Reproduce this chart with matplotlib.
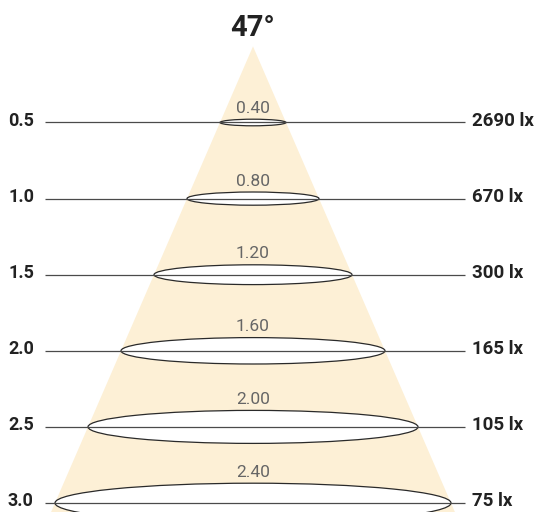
import matplotlib
matplotlib.use("Agg")
import matplotlib.pyplot as plt
from matplotlib.patches import Polygon, Ellipse

# data
distances = [0.5, 1.0, 1.5, 2.0, 2.5, 3.0]
diameters = [0.40, 0.80, 1.20, 1.60, 2.00, 2.40]
lux = [2690, 670, 300, 165, 105, 75]
angle_label = "47°"

# pixel-based geometry helpers (style, not data)
W, H = 537, 512
cx_px, y0_px = 253.0, 46.4
sx, sy = 165.0, 152.2   # px per metre

fig = plt.figure(figsize=(W / 100, H / 100), dpi=100)
ax = fig.add_axes([0, 0, 1, 1])
ax.set_xlim(-cx_px / sx, (W - cx_px) / sx)
ax.set_ylim((H - y0_px) / sy, -y0_px / sy)
ax.axis("off")

fam = ["Roboto", "DejaVu Sans"]
dark = "#222222"
linec = "#4a4a4a"

# beam cone
half = diameters[-1] / distances[-1] / 2
dmax = (H - y0_px) / sy + 0.05
cone = Polygon([(0, 0), (-half * dmax, dmax), (half * dmax, dmax)],
               closed=True, facecolor="#fdf0d6", edgecolor="none", zorder=1)
ax.add_patch(cone)

x_left_line = (45 - cx_px) / sx
x_right_line = (465 - cx_px) / sx
x_left_lab = (8 - cx_px) / sx
x_right_lab = (472 - cx_px) / sx
ratio = 0.1 * sx / sy  # ellipse height/width ratio in data units

for d, D, lx in zip(distances, diameters, lux):
    h = D * ratio
    ax.add_patch(Ellipse((0, d), D, h, facecolor="white", edgecolor="#2a2a2a",
                         linewidth=0.9, zorder=2))
    ax.plot([x_left_line, x_right_line], [d, d], color=linec, linewidth=0.9,
            zorder=3, solid_capstyle="butt")
    ax.text(x_left_lab, d - 2 / sy, f"{d:.1f}", ha="left", va="center",
            fontsize=13, fontweight="bold", color=dark, family=fam, zorder=4)
    ax.text(x_right_lab, d - 2 / sy, f"{lx} lx", ha="left", va="center",
            fontsize=13.5, fontweight="bold", color=dark, family=fam, zorder=4)
    ax.text(0, d - h / 2 - 11 / sy, f"{D:.2f}", ha="center", va="center",
            fontsize=12.5, fontweight="normal", color="#666666", family=fam, zorder=4)

ax.text(0, (28 - y0_px) / sy, angle_label, ha="center", va="center",
        fontsize=21, fontweight="bold", color=dark, family=fam)

fig.savefig("out.png", dpi=100)
